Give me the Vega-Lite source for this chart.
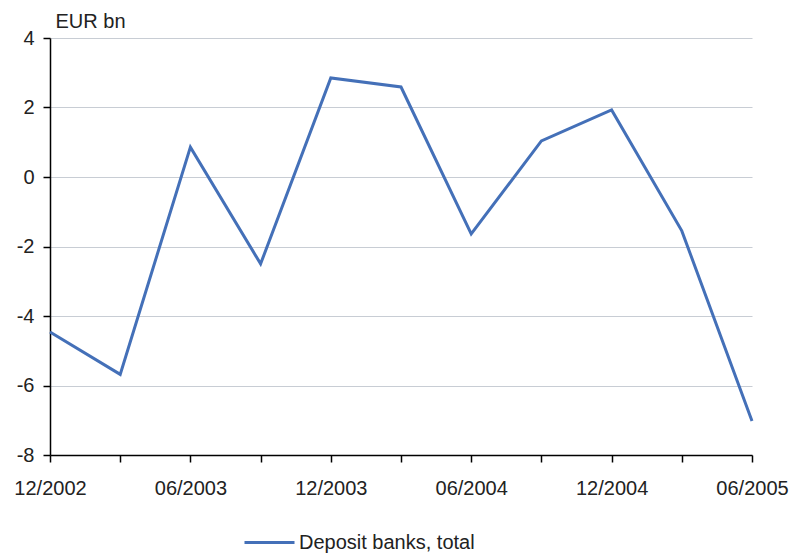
{
  "$schema": "https://vega.github.io/schema/vega-lite/v6.json",
  "width": 702,
  "height": 417,
  "autosize": {"type": "none"},
  "padding": {"left": 50, "top": 38, "right": 40, "bottom": 101},
  "background": "white",
  "config": {
    "font": "Liberation Sans",
    "view": {"stroke": null}
  },
  "data": {
    "values": [
      {"quarter": "12/2002", "value": -4.46, "series": "Deposit banks, total"},
      {"quarter": "03/2003", "value": -5.68, "series": "Deposit banks, total"},
      {"quarter": "06/2003", "value": 0.86, "series": "Deposit banks, total"},
      {"quarter": "09/2003", "value": -2.5, "series": "Deposit banks, total"},
      {"quarter": "12/2003", "value": 2.85, "series": "Deposit banks, total"},
      {"quarter": "03/2004", "value": 2.59, "series": "Deposit banks, total"},
      {"quarter": "06/2004", "value": -1.64, "series": "Deposit banks, total"},
      {"quarter": "09/2004", "value": 1.04, "series": "Deposit banks, total"},
      {"quarter": "12/2004", "value": 1.93, "series": "Deposit banks, total"},
      {"quarter": "03/2005", "value": -1.55, "series": "Deposit banks, total"},
      {"quarter": "06/2005", "value": -7.02, "series": "Deposit banks, total"}
    ]
  },
  "mark": {"type": "line", "strokeWidth": 3},
  "encoding": {
    "x": {
      "field": "quarter",
      "type": "ordinal",
      "sort": null,
      "scale": {"type": "point", "padding": 0},
      "axis": {
        "title": null,
        "labelAngle": 0,
        "labelExpr": "indexof(['12/2002','06/2003','12/2003','06/2004','12/2004','06/2005'], datum.value) >= 0 ? datum.value : ''",
        "labelFontSize": 20,
        "labelColor": "#222",
        "labelPadding": 16,
        "labelOverlap": false,
        "tickSize": 7,
        "tickColor": "#000",
        "tickWidth": 1.5,
        "domainColor": "#000",
        "domainWidth": 1.5,
        "grid": false
      }
    },
    "y": {
      "field": "value",
      "type": "quantitative",
      "scale": {"domain": [-8, 4], "nice": false},
      "axis": {
        "values": [-8, -6, -4, -2, 0, 2, 4],
        "labelExpr": "replace(datum.label, '\u2212', '-')",
        "title": "EUR bn",
        "titleAngle": 0,
        "titleAlign": "left",
        "titleBaseline": "alphabetic",
        "titleX": 5,
        "titleY": -11,
        "titleFontSize": 20,
        "titleFontWeight": "normal",
        "titleColor": "#222",
        "labelFontSize": 20,
        "labelColor": "#222",
        "labelPadding": 9,
        "tickSize": 7,
        "tickColor": "#000",
        "tickWidth": 1.5,
        "domainColor": "#000",
        "domainWidth": 1.5,
        "gridColor": "#c8cdd4",
        "gridWidth": 1
      }
    },
    "color": {
      "field": "series",
      "type": "nominal",
      "scale": {"range": ["#4470B8"]},
      "legend": {
        "title": null,
        "orient": "none",
        "legendX": 193,
        "legendY": 478,
        "symbolType": "stroke",
        "symbolSize": 2500,
        "symbolStrokeWidth": 3,
        "labelFontSize": 20,
        "labelColor": "#222",
        "labelOffset": 3,
        "labelLimit": 400
      }
    }
  }
}
